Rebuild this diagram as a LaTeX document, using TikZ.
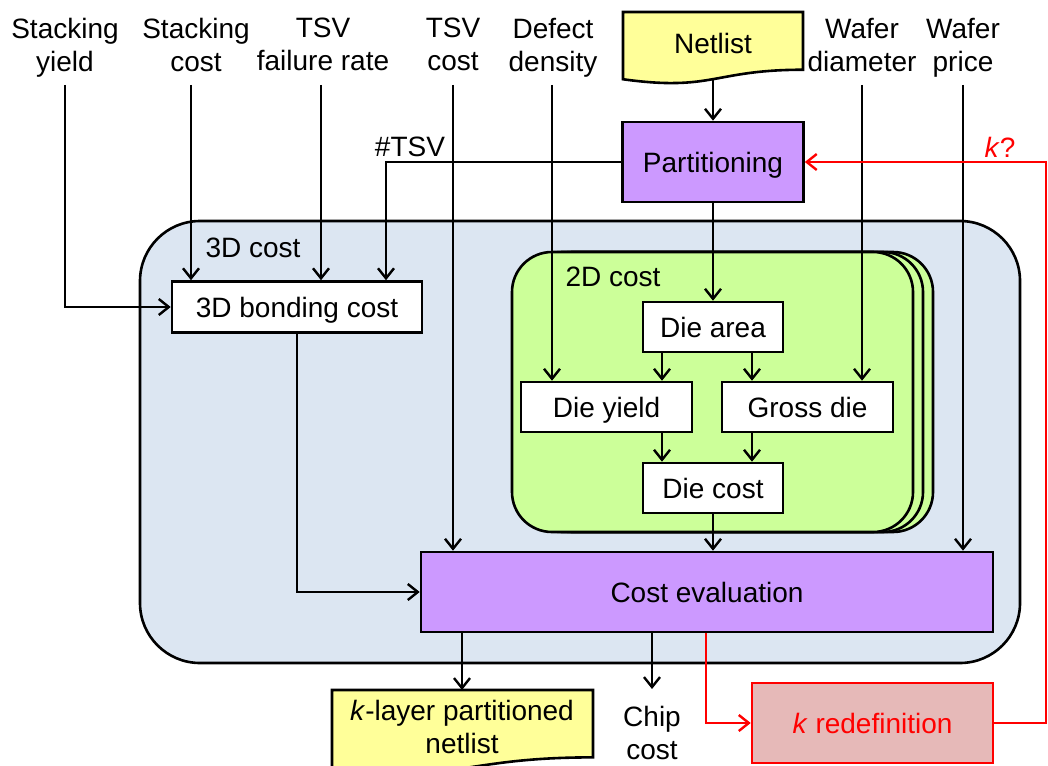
\documentclass[tikz,border=0pt]{standalone}
\usepackage{fontspec}
\setmainfont{Liberation Sans}
\usetikzlibrary{arrows.meta,calc}

\definecolor{purplebox}{HTML}{CC99FF}
\definecolor{docyellow}{HTML}{FFFF99}
\definecolor{threedfill}{HTML}{DCE6F2}
\definecolor{twodfill}{HTML}{CCFF99}
\definecolor{redeffill}{HTML}{E6B9B8}
\definecolor{linkred}{HTML}{FF0000}

% document shape: left x, top y, width, height, fill colour (wavy bottom edge)
\newcommand{\docshape}[5]{%
  \filldraw[line width=2.6pt, fill=#5] (#1,#2) -- ({#1+#3},#2) -- ({#1+#3},{#2+0.802*#4})
    .. controls ({#1+0.5*#3},{#2+0.802*#4}) and ({#1+0.5*#3},{#2+1.107*#4}) ..
    (#1,{#2+0.934*#4}) -- cycle;}

\begin{document}
\begin{tikzpicture}[x=1pt,y=-1pt,
  font=\fontsize{28}{33}\selectfont,
  box/.style={draw, line width=2.6pt, inner sep=0pt, align=center, text height=20pt, text depth=0pt},
  lab/.style={align=center, inner sep=0pt},
  conn/.style={line width=2.4pt, -{Straight Barb[length=10pt,width=16pt]}},
  redconn/.style={conn, draw=linkred},
  container/.style={draw, line width=2.6pt}]

\useasboundingbox (0,0) rectangle (1048,765);
\clip (0,0) rectangle (1048,765);

% 3D cost region
\draw[container, fill=threedfill, rounded corners=60pt] (140,221) rectangle (1020,663);
\node[lab] (lbl3d) at (253,248) {3D cost};

% 2D cost region, one sheet per layer
\foreach \dx in {20,10,0}
  \draw[container, fill=twodfill, rounded corners=40pt] ({512+\dx},252) rectangle ({913+\dx},532);
\node[lab] (lbl2d) at (613,277) {2D cost};

% input netlist and output netlist
\docshape{623}{12}{180}{72}{docyellow}
\node[lab] (netlist) at (713,43) {Netlist};
\coordinate (netbot) at (713,79);

\docshape{332}{690}{261}{84}{docyellow}
\node[lab, anchor=north] (kout) at (462,700) {\textit{k}-layer partitioned\\netlist};
\coordinate (kdoctop) at (462,690);

% process boxes
\node[box, fill=purplebox, minimum width=181pt, minimum height=80pt] (part) at (713,162) {Partitioning};
\node[box, fill=white, minimum width=250pt, minimum height=51pt] (bond) at (297,307) {3D bonding cost};
\node[box, fill=white, minimum width=140pt, minimum height=50pt] (diearea) at (713,327) {Die area};
\node[box, fill=white, minimum width=171pt, minimum height=50pt] (dieyield) at (606.5,407) {Die yield};
\node[box, fill=white, minimum width=171pt, minimum height=50pt] (grossdie) at (807.5,407) {Gross die};
\node[box, fill=white, minimum width=140pt, minimum height=50pt] (diecost) at (713,488) {Die cost};
\node[box, fill=purplebox, minimum width=572pt, minimum height=80pt] (cost) at (707,592) {Cost evaluation};
\node[box, draw=linkred, fill=redeffill, text=linkred, minimum width=241pt, minimum height=80pt] (kred) at (872.5,723) {\textit{k} redefinition};

% parameter labels
\node[lab, anchor=north] (sy) at (65,18) {Stacking\\yield};
\node[lab, anchor=north] (sc) at (196,18) {Stacking\\cost};
\node[lab, anchor=north] (tf) at (323,18) {TSV\\failure rate};
\node[lab, anchor=north] (tc) at (453,18) {TSV\\cost};
\node[lab, anchor=north] (dd) at (553,18) {Defect\\density};
\node[lab, anchor=north] (wd) at (862,18) {Wafer\\diameter};
\node[lab, anchor=north] (wp) at (963,18) {Wafer\\price};
\node[lab] (ntsv) at (410,147) {\#TSV};
\node[lab, anchor=north] (chip) at (652,706) {Chip\\cost};
\node[lab, text=linkred] (kq) at (1000,147) {\textit{k}?};

\coordinate (sy0) at (65,85);
\coordinate (sc0) at (191,85);
\coordinate (tf0) at (321,85);
\coordinate (tc0) at (453,85);
\coordinate (dd0) at (552,85);
\coordinate (wd0) at (862,85);
\coordinate (wp0) at (963,85);
\coordinate (tsvx) at (386,0);
\coordinate (lx) at (662,0);
\coordinate (rx) at (752,0);
\coordinate (chiptop) at (652,689);
\coordinate (fbx) at (706,0);
\coordinate (loopx) at (1046,0);

% parameter flows
\draw[conn] (sy0) |- (bond.west);
\draw[conn] (sc0) -- (sc0 |- bond.north);
\draw[conn] (tf0) -- (tf0 |- bond.north);
\draw[conn] (part.west) -| (bond.north -| tsvx);
\draw[conn] (tc0) -- (tc0 |- cost.north);
\draw[conn] (dd0) -- (dd0 |- dieyield.north);
\draw[conn] (netbot) -- (part.north);
\draw[conn] (part.south) -- (diearea.north);
\draw[conn] (wd0) -- (wd0 |- grossdie.north);
\draw[conn] (wp0) -- (wp0 |- cost.north);

% 2D cost internals
\draw[conn] (diearea.south -| lx) -- (dieyield.north -| lx);
\draw[conn] (diearea.south -| rx) -- (grossdie.north -| rx);
\draw[conn] (dieyield.south -| lx) -- (diecost.north -| lx);
\draw[conn] (grossdie.south -| rx) -- (diecost.north -| rx);
\draw[conn] (diecost.south) -- (cost.north -| diecost.south);
\draw[conn] (bond.south) |- (cost.west);

% outputs
\draw[conn] (cost.south -| kdoctop) -- (kdoctop);
\draw[conn] (cost.south -| chiptop) -- (chiptop);

% redefinition loop
\draw[redconn] (cost.south -| fbx) |- (kred.west);
\draw[redconn] (kred.east) -| (part.east -| loopx) -- (part.east);
\end{tikzpicture}
\end{document}
